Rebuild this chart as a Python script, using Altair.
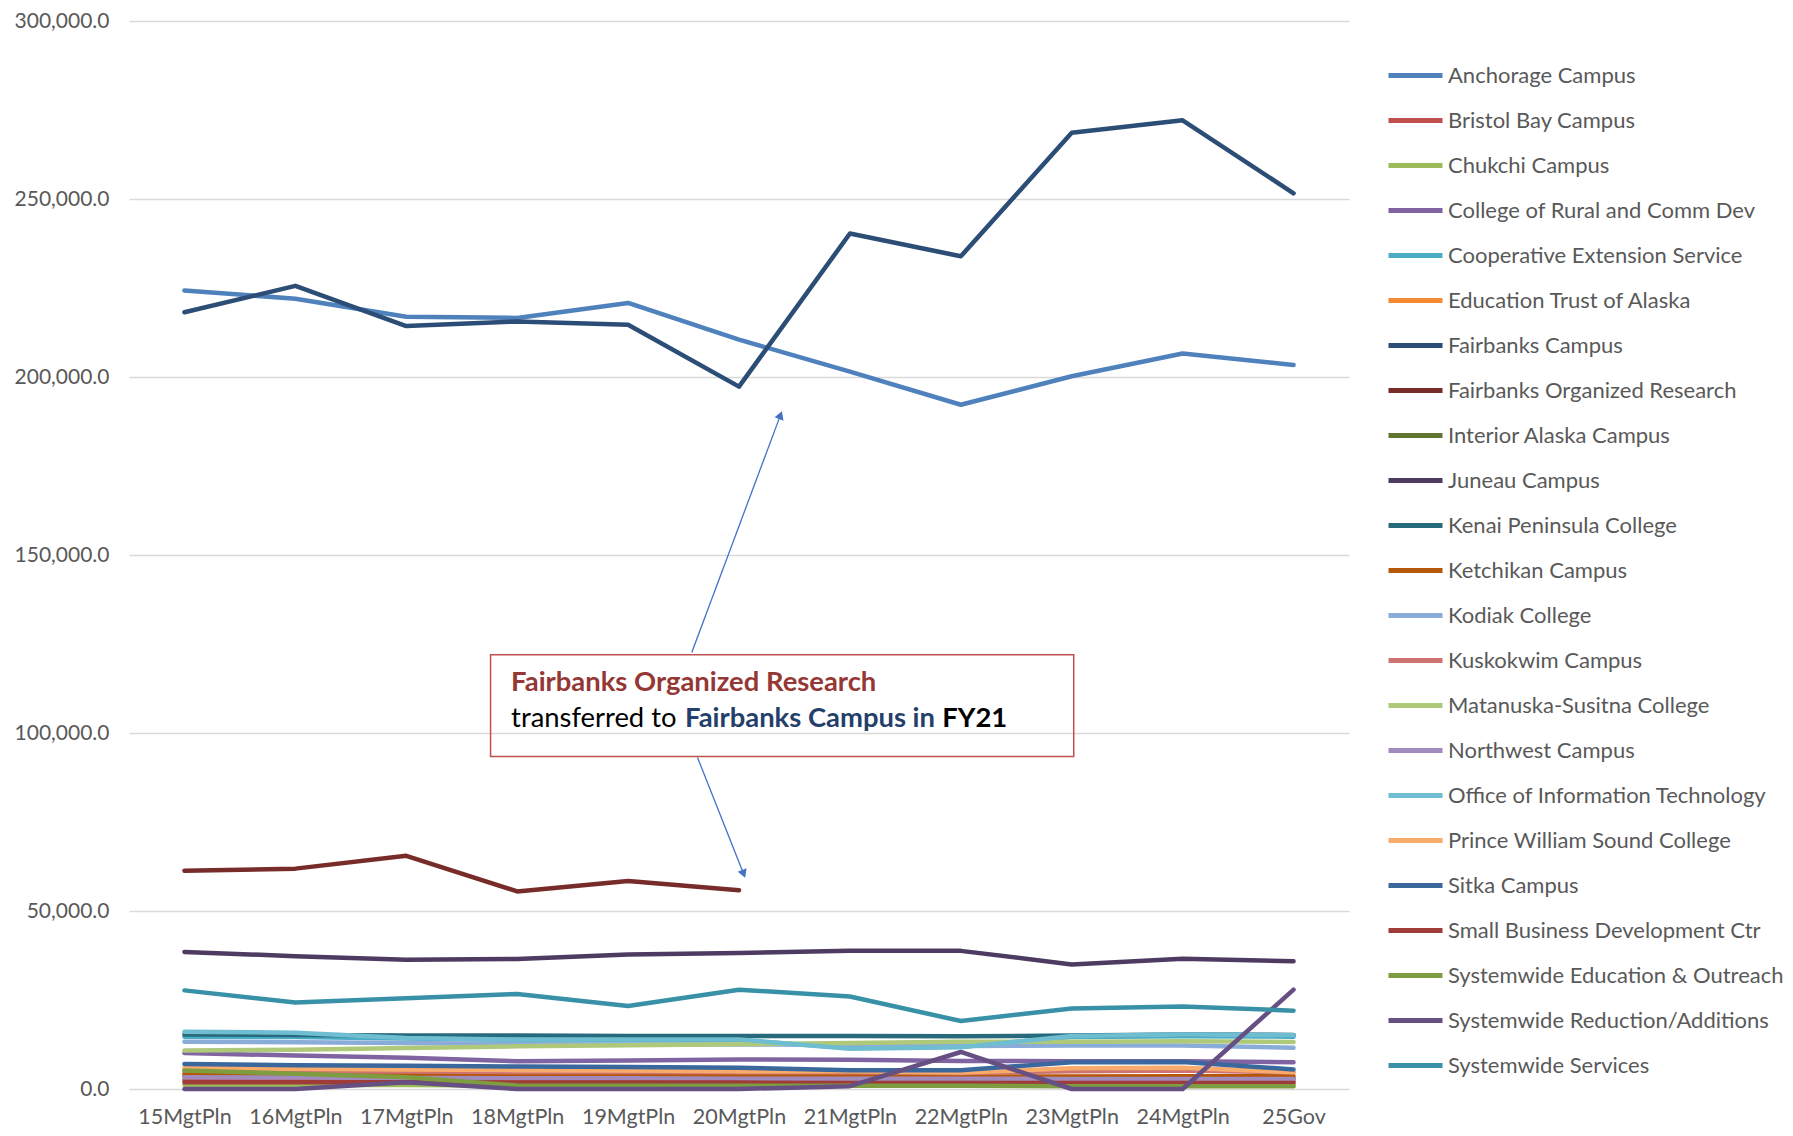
import altair as alt
import pandas as pd

categories = ["15MgtPln", "16MgtPln", "17MgtPln", "18MgtPln", "19MgtPln", "20MgtPln",
              "21MgtPln", "22MgtPln", "23MgtPln", "24MgtPln", "25Gov"]

names = ["Anchorage Campus", "Bristol Bay Campus", "Chukchi Campus", "College of Rural and Comm Dev",
         "Cooperative Extension Service", "Education Trust of Alaska", "Fairbanks Campus",
         "Fairbanks Organized Research", "Interior Alaska Campus", "Juneau Campus",
         "Kenai Peninsula College", "Ketchikan Campus", "Kodiak College", "Kuskokwim Campus",
         "Matanuska-Susitna College", "Northwest Campus", "Office of Information Technology",
         "Prince William Sound College", "Sitka Campus", "Small Business Development Ctr",
         "Systemwide Education & Outreach", "Systemwide Reduction/Additions", "Systemwide Services"]

colors = ["#4F81BD", "#C0504D", "#9BBB59", "#8064A2", "#4BACC6", "#F68A30", "#2C4D75",
          "#772C2A", "#5F7530", "#4D3B62", "#276A7C", "#B65708", "#8AACD8", "#CD7371",
          "#AFC97A", "#A18BBE", "#6FBDD1", "#F9AB6B", "#3A679C", "#9F3B38", "#7E9C40",
          "#664F82", "#3891A7"]

anchorage = [224300, 222000, 216900, 216600, 220800, 210500, 201500, 192200, 200200, 206600, 203400]
bristol_bay = [2600, 2500, 2500, 2400, 2400, 2300, 2300, 2200, 2200, 2200, 2200]
chukchi = [1200, 1100, 1100, 1000, 1000, 1000, 900, 900, 900, 900, 900]
crcd = [10100, 9400, 8800, 7800, 8000, 8300, 8200, 7900, 7800, 7800, 7500]
coop_ext = [14700, 14600, 14200, 13800, 13700, 13700, 11500, 11900, 14600, 14800, 14700]
ed_trust = [None, None, None, None, 3900, 4200, 4600, None, None, None, None]
fairbanks = [218200, 225600, 214300, 215600, 214700, 197300, 240300, 233900, 268600, 272100, 251600]
fairbanks_research = [61300, 61900, 65500, 55500, 58400, 55800, None, None, None, None, None]
interior = [3700, 3500, 3300, 3100, 3000, 3000, 2900, 2900, 2800, 2900, 2900]
juneau = [38500, 37300, 36300, 36500, 37800, 38200, 38800, 38800, 35000, 36600, 35900]
kenai = [15300, 15200, 15000, 15000, 14900, 14900, 14900, 14800, 15000, 15300, 15200]
ketchikan = [4300, 4200, 4100, 4000, 3900, 3800, 3700, 3500, 3500, 3600, 3600]
kodiak = [13300, 13100, 12900, 12600, 12500, 12500, 12400, 12100, 12200, 12200, 11600]
kuskokwim = [5200, 5000, 4900, 4800, 4800, 4700, 4700, 4500, 5000, 5200, 4700]
matsu = [10800, 11000, 11500, 12000, 12300, 12600, 12900, 13300, 13300, 13400, 13200]
northwest = [3300, 3200, 3100, 3000, 3000, 2900, 2900, 2900, 2800, 2800, 2800]
oit = [16100, 15800, 14300, 13900, 13900, 13900, 11300, 11700, 14900, 15300, 15100]
pwsc = [5900, 5700, 5500, 5300, 5200, 5000, 5000, 4600, 5800, 6000, 4700]
sitka = [7000, 6700, 6500, 6300, 6200, 6000, 5300, 5300, 7500, 7600, 5500]
small_business = [1900, 1900, 1900, 1800, 1800, 1800, 1700, 1700, 1700, 1700, 1700]
sw_education = [5200, 4300, 3300, 1000, 900, 900, 900, 900, 800, 800, 800]
sw_reduction = [0, 0, 1900, 0, 0, 0, 800, 10400, 0, 0, 27900]
sw_services = [27700, 24300, 25500, 26700, 23300, 27900, 26000, 19100, 22600, 23200, 22000]

series_values = [anchorage, bristol_bay, chukchi, crcd, coop_ext, ed_trust, fairbanks,
                 fairbanks_research, interior, juneau, kenai, ketchikan, kodiak, kuskokwim,
                 matsu, northwest, oit, pwsc, sitka, small_business, sw_education,
                 sw_reduction, sw_services]

y_ticks = [0, 50000, 100000, 150000, 200000, 250000, 300000]

rows = []
for name, vals in zip(names, series_values):
    for i, v in enumerate(vals):
        if v is not None:
            rows.append({"series": name, "idx": i, "value": v})
df = pd.DataFrame(rows)

# annotation geometry (data coordinates: category index, value)
box = pd.DataFrame([{"x0": 2.76, "x1": 8.018, "y0": 121980, "y1": 93430}])
arrows = pd.DataFrame([
    {"x0": 4.574, "y0": 122620, "x1": 5.374, "y1": 189290, "shape": "triangle-up", "angle": 20.5},
    {"x0": 4.626, "y0": 93120, "x1": 5.042, "y1": 60420, "shape": "triangle-down", "angle": 338.4},
])
ann_line1 = pd.DataFrame([{"x": 2.945, "y": 113960, "t": "Fairbanks Organized Research"}])
ann_l2a = pd.DataFrame([{"x": 2.945, "y": 104030, "t": "transferred to"}])
ann_l2b = pd.DataFrame([{"x": 4.513, "y": 104030, "t": "Fairbanks Campus in"}])
ann_l2c = pd.DataFrame([{"x": 6.832, "y": 104030, "t": "FY21"}])

label_expr = "[" + ",".join("'" + c + "'" for c in categories) + "][datum.value]"

FONT = "Lato"
ANN_SIZE = 27.4
x_scale = alt.Scale(domain=[-0.5, 10.5], nice=False, zero=False)
y_scale = alt.Scale(domain=[0, 300000], nice=False)

x_axis = alt.Axis(values=list(range(len(categories))), labelExpr=label_expr, grid=False,
                  ticks=False, domain=False, labelFontSize=21.5, labelColor="#595959",
                  labelPadding=17, labelFont=FONT, title=None)
y_axis = alt.Axis(values=y_ticks, format=",.1f", grid=True, gridColor="#D9D9D9",
                  gridWidth=1.3, ticks=False, domain=False, labelFontSize=21,
                  labelColor="#595959", labelPadding=20, labelFont=FONT, title=None)

lines = alt.Chart(df).mark_line(strokeWidth=4.5, strokeCap="round", strokeJoin="round").encode(
    x=alt.X("idx:Q", scale=x_scale, axis=x_axis),
    y=alt.Y("value:Q", scale=y_scale, axis=y_axis),
    color=alt.Color("series:N", scale=alt.Scale(domain=names, range=colors),
                    legend=alt.Legend(orient="none", legendX=1257, legendY=25, title=None,
                                      symbolType="stroke", symbolStrokeWidth=5,
                                      symbolSize=2916, labelFontSize=22, labelFont=FONT,
                                      labelColor="#595959", labelLimit=500, labelOffset=3,
                                      rowPadding=4, padding=0)),
)

rect = alt.Chart(box).mark_rect(fillOpacity=0, stroke="#C0504D", strokeWidth=1.5).encode(
    x=alt.X("x0:Q", scale=x_scale), x2="x1:Q",
    y=alt.Y("y0:Q", scale=y_scale), y2="y1:Q")

rules = alt.Chart(arrows).mark_rule(color="#4472C4", strokeWidth=1.3).encode(
    x=alt.X("x0:Q", scale=x_scale), x2="x1:Q",
    y=alt.Y("y0:Q", scale=y_scale), y2="y1:Q")

heads = alt.Chart(arrows).mark_point(filled=True, color="#4472C4", size=90, opacity=1).encode(
    x=alt.X("x1:Q", scale=x_scale), y=alt.Y("y1:Q", scale=y_scale),
    shape=alt.Shape("shape:N", scale=None), angle=alt.Angle("angle:Q", scale=None))

t1 = alt.Chart(ann_line1).mark_text(align="left", baseline="middle", font=FONT, fontSize=ANN_SIZE,
                                    fontWeight="bold", color="#953735").encode(
    x=alt.X("x:Q", scale=x_scale), y=alt.Y("y:Q", scale=y_scale), text="t:N")
t2 = alt.Chart(ann_l2a).mark_text(align="left", baseline="middle", font=FONT, fontSize=ANN_SIZE,
                                  color="#000000").encode(
    x=alt.X("x:Q", scale=x_scale), y=alt.Y("y:Q", scale=y_scale), text="t:N")
t3 = alt.Chart(ann_l2b).mark_text(align="left", baseline="middle", font=FONT, fontSize=ANN_SIZE,
                                  fontWeight="bold", color="#243F6B").encode(
    x=alt.X("x:Q", scale=x_scale), y=alt.Y("y:Q", scale=y_scale), text="t:N")
t4 = alt.Chart(ann_l2c).mark_text(align="left", baseline="middle", font=FONT, fontSize=ANN_SIZE,
                                  fontWeight="bold", color="#000000").encode(
    x=alt.X("x:Q", scale=x_scale), y=alt.Y("y:Q", scale=y_scale), text="t:N")

chart = alt.layer(lines, rect, rules, heads, t1, t2, t3, t4).properties(
    width=1220, height=1068,
    autosize=alt.AutoSizeParams(type="none"),
    padding={"left": 121, "top": 13, "right": 436, "bottom": 39},
).configure(font=FONT).configure_view(strokeWidth=0, stroke="transparent")

chart.save("out.html", embed_options={"renderer": "svg", "actions": False})
